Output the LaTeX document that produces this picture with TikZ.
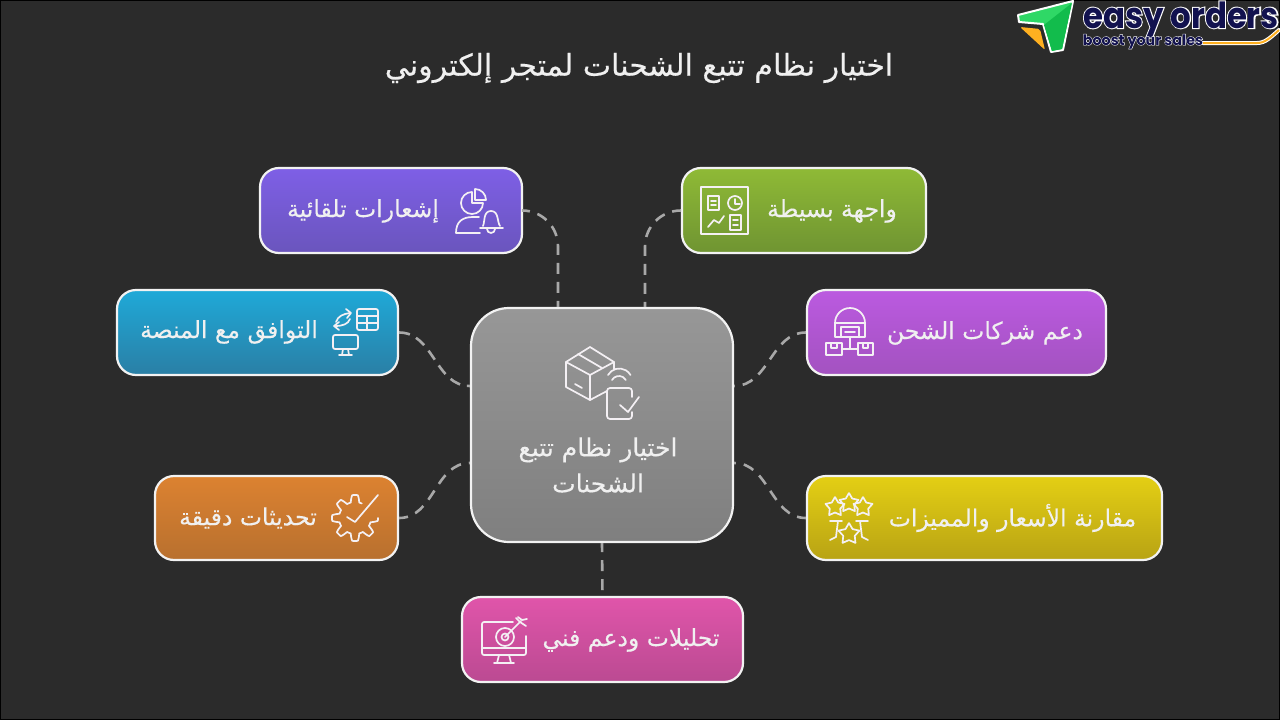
\documentclass[tikz,border=0pt]{standalone}
\usepackage{fontspec}
\usetikzlibrary{calc}
\TeXXeTstate=1
\newfontfamily\arabicfont[Script=Arabic,FakeBold=0.3]{DejaVu Sans}
\newfontfamily\logofont{Poppins}
\newfontfamily\logohalo[BoldFeatures={FakeBold=6}]{Poppins}
\newcommand{\ar}[1]{{\arabicfont\beginR #1\endR}}
\definecolor{bgc}{HTML}{2B2B2B}
\definecolor{iconc}{HTML}{F4F0F4}
\definecolor{navyc}{HTML}{12124F}
\definecolor{amberc}{HTML}{FFB020}
\definecolor{lgreen}{HTML}{2FD866}
\definecolor{dgreen}{HTML}{12BC4C}
\definecolor{pa}{HTML}{7E5FE6}\definecolor{pb}{HTML}{6A55BD}
\definecolor{ga}{HTML}{8FBA36}\definecolor{gb}{HTML}{6F9432}
\definecolor{va}{HTML}{BB5AE0}\definecolor{vb}{HTML}{A352C0}
\definecolor{ba}{HTML}{1FA9D8}\definecolor{bb}{HTML}{2A7FA5}
\definecolor{oa}{HTML}{DC8230}\definecolor{ob}{HTML}{B8702F}
\definecolor{ya}{HTML}{E4CF14}\definecolor{yb}{HTML}{B8A314}
\definecolor{ka}{HTML}{E055AA}\definecolor{kb}{HTML}{BB4A92}
\definecolor{ca}{HTML}{979797}\definecolor{cb}{HTML}{7F7F7F}
\tikzset{
  card/.style={draw=white!95!black,line width=2.2pt,rounded corners=19pt,inner sep=0pt},
  lbl/.style={text=white!94!black,inner sep=0pt,font=\fontsize{23.5}{28}\selectfont},
  link/.style={draw=white!66!black,line width=2.6pt,dash pattern=on 11pt off 8pt,dash phase=2pt},
  ico/.style={draw=iconc,line width=1.7pt,line cap=round,line join=round},
}
\newcommand{\icostar}[3]{\draw[ico] plot[samples=11,domain=0:10] ({#1+(mod(round(\x),2)==0 ? #3 : #3*0.55)*cos(-90+36*\x)},{#2+(mod(round(\x),2)==0 ? #3 : #3*0.55)*sin(-90+36*\x)});}
\begin{document}
\begin{tikzpicture}[x=1pt,y=-1pt]
\useasboundingbox (0,0) rectangle (1280,720);
\fill[bgc] (0,0) rectangle (1280,720);
\draw[black,line width=2pt] (0,0) rectangle (1280,720);

\node[text=white!94!black,inner sep=0pt,font=\fontsize{30}{34}\selectfont] (title) at (639,68) {\ar{اختيار نظام تتبع الشحنات لمتجر إلكتروني}};

% cards
\node[card,rounded corners=38pt,minimum width=262pt,minimum height=234pt,top color=ca,bottom color=cb] (hub) at (602,425) {};
\node[card,minimum width=262pt,minimum height=85pt,top color=pa,bottom color=pb] (notify) at (391,210.5) {};
\node[card,minimum width=244pt,minimum height=85pt,top color=ga,bottom color=gb] (ui) at (804,210.5) {};
\node[card,minimum width=281pt,minimum height=85pt,top color=ba,bottom color=bb] (platform) at (257.5,332.5) {};
\node[card,minimum width=299pt,minimum height=85pt,top color=va,bottom color=vb] (carriers) at (956.5,332.5) {};
\node[card,minimum width=243pt,minimum height=84pt,top color=oa,bottom color=ob] (updates) at (276.5,518) {};
\node[card,minimum width=355pt,minimum height=84pt,top color=ya,bottom color=yb] (prices) at (984.5,518) {};
\node[card,minimum width=281pt,minimum height=85pt,top color=ka,bottom color=kb] (analytics) at (602.5,639.5) {};

% connectors
\draw[link,rounded corners=36pt] (notify.east) -| ([xshift=-44pt]hub.north);
\draw[link,rounded corners=36pt] (ui.west) -| ([xshift=43pt]hub.north);
\draw[link,dash pattern=on 11pt off 7pt,dash phase=0pt] (platform.east) to[out=0,in=180] ([yshift=39pt]hub.west);
\draw[link] (carriers.west) to[out=180,in=0] ([yshift=39pt]hub.east);
\draw[link] (updates.east) to[out=0,in=180] ([yshift=-38pt]hub.west);
\draw[link] (prices.west) to[out=180,in=0] ([yshift=-38pt]hub.east);
\draw[link] (hub.south) -- (analytics.north);

% labels
\node[lbl] (tnotify) at (363,211) {\ar{إشعارات تلقائية}};
\node[lbl] (tui) at (832,211) {\ar{واجهة بسيطة}};
\node[lbl] (tplatform) at (229,332) {\ar{التوافق مع المنصة}};
\node[lbl] (tcarriers) at (985,333) {\ar{دعم شركات الشحن}};
\node[lbl] (tupdates) at (248,518) {\ar{تحديثات دقيقة}};
\node[lbl] (tprices) at (1012.5,518) {\ar{مقارنة الأسعار والمميزات}};
\node[lbl] (tanalytics) at (631,640) {\ar{تحليلات ودعم فني}};
\node[lbl,align=center,font=\fontsize{25}{36}\selectfont] (thub) at (598,465) {\ar{اختيار نظام تتبع}\\\ar{الشحنات}};

% hub icon
\draw[ico] (590,347) -- (566,362) -- (566,387) -- (590,400) -- (607,391);
\draw[ico] (590,347) -- (614,362) -- (614,369);
\draw[ico] (566,362) -- (590,375) -- (614,362);
\draw[ico] (590,375) -- (590,400);
\draw[ico] (578,354) -- (602,368);
\draw[ico] (575,384) -- (582,388);
\draw[ico,rounded corners=3pt] (632,397) -- (632,388) -- (607,388) -- (607,419) -- (632,419) -- (632,412);
\draw[ico] (612,380) arc[start angle=-150,end angle=-30,radius=8];
\draw[ico] (608,375) arc[start angle=-150,end angle=-30,radius=13];
\draw[ico] (620,405) -- (628,412) -- (639,397);

% notify icon
\draw[ico] (472,192) arc[start angle=-90,end angle=-360,radius=11] -- (472,203) -- cycle;
\draw[ico] (475,189) arc[start angle=-90,end angle=0,radius=11] -- (475,200) -- cycle;
\draw[ico] (480,233) -- (456,233) .. controls (456,222) and (462,217) .. (473,217) -- (479,217);
\draw[ico] (483,226) .. controls (485,222) and (483,211) .. (491,211) .. controls (499,211) and (497,222) .. (500,226);
\draw[ico] (480,228) -- (503,228);
\draw[ico] (487,229) arc[start angle=180,end angle=0,radius=4];

% ui icon
\draw[ico,line width=2pt] (701,187) rectangle (748,234);
\draw[ico] (708,196) rectangle (719,210);
\draw[ico] (711,201) -- (716,201) (711,205) -- (716,205);
\draw[ico] (735,203) circle[radius=7];
\draw[ico] (735,199) -- (735,204) -- (740,204);
\draw[ico] (708,227) -- (714,220) -- (719,223) -- (724,216);
\draw[ico] (730,215) rectangle (741,230);
\draw[ico] (733,220) -- (738,220) (733,225) -- (738,225);

% platform icon
\draw[ico,rounded corners=2pt] (357,309) rectangle (378,330);
\draw[ico] (357,316) -- (378,316) (357,323) -- (378,323) (367,316) -- (367,330);
\draw[ico,rounded corners=2pt] (333,335) rectangle (358,349);
\draw[ico] (343,349) -- (342,355) (348,349) -- (349,355) (339,355) -- (352,355);
\draw[ico] (336,322) .. controls (338,316) and (343,314) .. (350,313);
\draw[ico] (346,309) -- (351,313) -- (347,318);
\draw[ico] (350,319) .. controls (348,324) and (343,326) .. (335,326);
\draw[ico] (339,322) -- (334,326) -- (339,330);

% carriers icon
\draw[ico] (835,337) -- (835,323) arc[start angle=180,end angle=360,radius=15] -- (865,337) -- cycle;
\draw[ico] (835,323) -- (865,323);
\draw[ico] (841,337) -- (841,327) -- (859,327) -- (859,337);
\draw[ico] (845,332) -- (855,332);
\draw[ico] (850,337) -- (850,349) (842,349) -- (858,349);
\draw[ico] (826,343) rectangle (842,355);
\draw[ico] (858,343) rectangle (873,355);
\draw[ico] (831,343) -- (831,348) -- (837,348) -- (837,343);
\draw[ico] (863,343) -- (863,348) -- (868,348) -- (868,343);

% updates icon
\draw[ico] plot[samples=240,domain=0:295] ({355+(19.5+3.5*max(-1,min(1,1.8*cos(8*\x))))*cos(\x)},{518+(19.5+3.5*max(-1,min(1,1.8*cos(8*\x))))*sin(\x)});
\draw[ico] (347,517) -- (355,522) -- (378,495);

% prices icon
\icostar{835}{507}{10}
\icostar{849}{503}{10}
\icostar{863}{507}{10}
\draw[ico] (830,521) -- (842,521) (856,521) -- (868,521);
\draw[ico] (838,521) -- (836,537) -- (830,540);
\draw[ico] (860,521) -- (862,537) -- (868,540);
\icostar{849}{534}{11}

% analytics icon
\draw[ico,rounded corners=2pt] (513,622) -- (482,622) -- (482,655) -- (526,655) -- (526,636);
\draw[ico] (482,648) -- (526,648);
\draw[ico] (499,655) -- (497,663) (509,655) -- (511,663) (494,663) -- (514,663);
\draw[ico] (505,637) circle[radius=9];
\draw[ico] (505,637) circle[radius=3.5];
\draw[ico] (505,637) -- (521,621);
\draw[ico] (516,618) -- (520,622) -- (526,626) (518,617) -- (522,620) -- (527,619);

% logo
\filldraw[draw=white,line width=2pt,fill=lgreen,line join=round] (1018,15) -- (1073,1) -- (1063,50) -- (1051,52) -- (1043,24) -- (1019,22) -- cycle;
\fill[dgreen] (1072,3) -- (1062,49) -- (1052,51) -- (1044,25) -- cycle;
\fill[amberc,rounded corners=2pt] (1020,27) -- (1040,29) -- (1045,50) -- cycle;
\node[inner sep=0pt,anchor=base,text=white] (halo1) at (1181,28) {\scalebox{0.90}[1]{\logohalo\bfseries\fontsize{36}{40}\selectfont easy orders}};
\node[inner sep=0pt,anchor=base,text=navyc] (logo1) at (1181,28) {\scalebox{0.90}[1]{\logofont\bfseries\fontsize{36}{40}\selectfont easy orders}};
\draw[white,line width=4pt,line cap=round] (1203,43) -- (1257,43) .. controls (1265,43) and (1270,38) .. (1279,30);
\draw[amberc,line width=2pt] (1203,43) -- (1257,43) .. controls (1265,43) and (1270,38) .. (1279,30);
\node[inner sep=0pt,anchor=base,text=white] (halo2) at (1143,45) {\scalebox{0.985}[1]{\logohalo\bfseries\fontsize{14.5}{18}\selectfont boost your sales}};
\node[inner sep=0pt,anchor=base,text=navyc] (logo2) at (1143,45) {\scalebox{0.985}[1]{\logofont\bfseries\fontsize{14.5}{18}\selectfont boost your sales}};
\end{tikzpicture}
\end{document}
